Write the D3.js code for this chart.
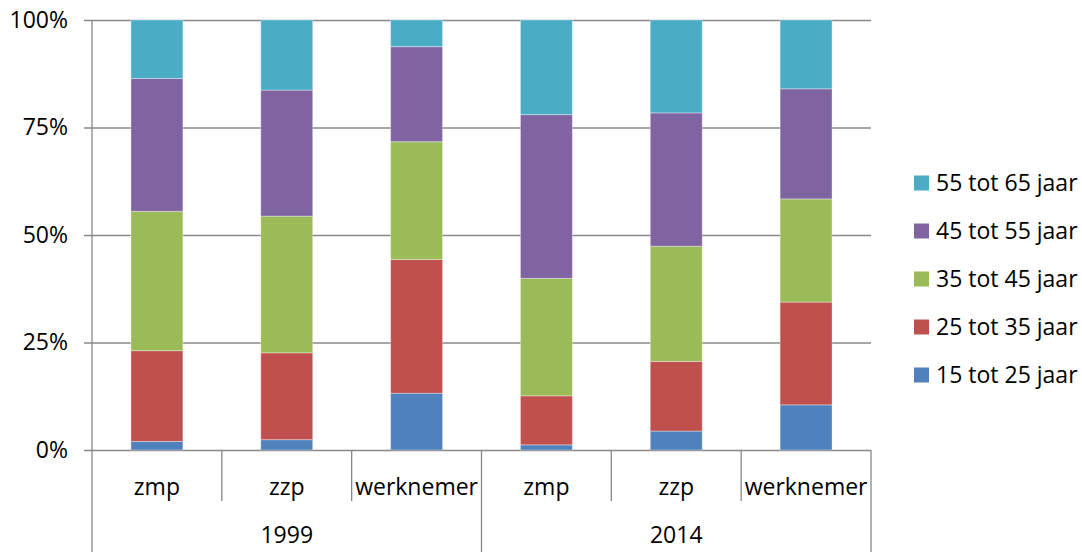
<!DOCTYPE html>
<html>
<head>
<meta charset="utf-8">
<script src="https://cdn.jsdelivr.net/npm/d3@7"></script>
<style>
  body { margin: 0; background: #fff; }
  text { font-family: "Open Sans", sans-serif; fill: #000; }
</style>
</head>
<body>
<div id="viz"></div>
<script>
// data (percent per age group)
const categories = ["zmp", "zzp", "werknemer", "zmp", "zzp", "werknemer"];
const years = ["1999", "1999", "1999", "2014", "2014", "2014"];
const ageGroups = ["15 tot 25 jaar", "25 tot 35 jaar", "35 tot 45 jaar", "45 tot 55 jaar", "55 tot 65 jaar"];
const age15_25 = [2.0, 2.4, 13.2, 1.2, 4.4, 10.5];
const age25_35 = [21.1, 20.2, 31.1, 11.4, 16.2, 23.9];
const age35_45 = [32.4, 31.8, 27.4, 27.3, 26.8, 24.0];
const age45_55 = [30.9, 29.3, 22.1, 38.1, 31.0, 25.6];
const age55_65 = [13.6, 16.3, 6.2, 22.0, 21.6, 16.0];
const yTicks = [0, 25, 50, 75, 100];
const yTickLabels = ["0%", "25%", "50%", "75%", "100%"];

const colors = ["#4F81BD", "#C0504D", "#9BBB59", "#8064A2", "#4BACC6"];

const W = 1082, H = 552;
const plotLeft = 92, plotRight = 871, plotTop = 20, plotBottom = 450;
const fontSize = "23px";

const svg = d3.select("#viz").append("svg")
  .attr("width", W)
  .attr("height", H);

// build rows for the stack
const series = [age15_25, age25_35, age35_45, age45_55, age55_65];
const rows = categories.map((c, i) => {
  const r = {idx: i};
  ageGroups.forEach((g, k) => r[g] = series[k][i]);
  return r;
});
const stacked = d3.stack().keys(ageGroups)(rows);

const x = d3.scaleBand()
  .domain(d3.range(categories.length))
  .range([plotLeft, plotRight])
  .paddingInner(0.6)
  .paddingOuter(0.3);

const y = d3.scaleLinear()
  .domain([0, 100])
  .range([plotBottom, plotTop]);

// gridlines + y labels
const yAxis = svg.append("g")
  .attr("transform", "translate(" + (plotLeft - 8) + ",0)")
  .call(d3.axisLeft(y)
    .tickValues(yTicks)
    .tickSize(-(plotRight - plotLeft + 8))
    .tickPadding(16)
    .tickFormat((d, i) => yTickLabels[i]));
yAxis.select(".domain").remove();
yAxis.selectAll("line").attr("stroke", "#888").attr("stroke-width", 1.3);
yAxis.selectAll("text")
  .style("font-family", "'Open Sans', sans-serif")
  .style("font-size", fontSize)
  .attr("fill", "#000");

// bars
svg.append("g")
  .selectAll("g")
  .data(stacked)
  .join("g")
    .attr("fill", (d, i) => colors[i])
  .selectAll("rect")
  .data(d => d)
  .join("rect")
    .attr("x", d => x(d.data.idx))
    .attr("width", x.bandwidth())
    .attr("y", d => y(d[1]))
    .attr("height", d => y(d[0]) - y(d[1]))
    .attr("stroke", "rgba(255,255,255,0.35)")
    .attr("stroke-width", 1);

// y axis line
svg.append("line")
  .attr("x1", plotLeft).attr("x2", plotLeft)
  .attr("y1", plotTop).attr("y2", H)
  .attr("stroke", "#888").attr("stroke-width", 1.3);

// category separators
const step = x.step();
d3.range(1, categories.length).forEach(i => {
  const xs = plotLeft + i * step;
  const isYear = years[i] !== years[i - 1];
  svg.append("line")
    .attr("x1", xs).attr("x2", xs)
    .attr("y1", plotBottom).attr("y2", isYear ? H : 501)
    .attr("stroke", "#888").attr("stroke-width", 1.3);
});
svg.append("line")
  .attr("x1", plotRight).attr("x2", plotRight)
  .attr("y1", plotBottom).attr("y2", H)
  .attr("stroke", "#888").attr("stroke-width", 1.3);

// category labels
svg.append("g")
  .selectAll("text")
  .data(categories)
  .join("text")
    .attr("x", (d, i) => x(i) + x.bandwidth() / 2)
    .attr("y", 487)
    .attr("dy", "0.35em")
    .attr("text-anchor", "middle")
    .style("font-size", fontSize)
    .text(d => d);

// year labels
const uniqueYears = Array.from(new Set(years));
svg.append("g")
  .selectAll("text")
  .data(uniqueYears)
  .join("text")
    .attr("x", d => {
      const idx = years.map((yv, i) => yv === d ? i : -1).filter(i => i >= 0);
      return (x(idx[0]) + x(idx[idx.length - 1]) + x.bandwidth()) / 2;
    })
    .attr("y", 535)
    .attr("dy", "0.35em")
    .attr("text-anchor", "middle")
    .style("font-size", fontSize)
    .text(d => d);

// legend (reversed order, top = oldest group)
const legend = svg.append("g")
  .selectAll("g")
  .data(ageGroups.slice().reverse())
  .join("g")
    .attr("transform", (d, i) => "translate(914," + (183 + i * 48) + ")");
legend.append("rect")
  .attr("x", 0).attr("y", -7.5)
  .attr("width", 15).attr("height", 15)
  .attr("fill", (d, i) => colors[colors.length - 1 - i]);
legend.append("text")
  .attr("x", 22)
  .attr("dy", "0.35em")
  .style("font-size", fontSize)
  .text(d => d);
</script>
</body>
</html>
